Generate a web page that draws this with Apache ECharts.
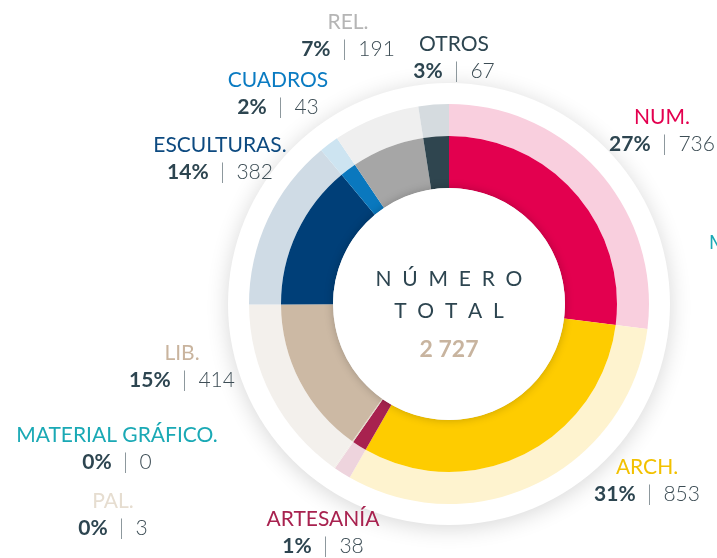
<!DOCTYPE html>
<html lang="es" style="height: 100%">
<head>
  <meta charset="utf-8">
  <script type="text/javascript" src="https://cdn.jsdelivr.net/npm/echarts@6/dist/echarts.min.js"></script>
</head>
<body style="height: 100%; margin: 0; background: #ffffff">
  <div id="donut" style="height: 558px; width: 717px"></div>

  <script type="text/javascript">
    // categories, clockwise from 12 o'clock
    var names = ['NUM.', 'ARCH.', 'ARTESANÍA', 'PAL.', 'MATERIAL GRÁFICO.', 'LIB.', 'ESCULTURAS.', 'CUADROS', 'REL.', 'OTROS'];
    var values = [736, 853, 38, 3, 0, 414, 382, 43, 191, 67];
    // percentages as printed on the chart
    var pctLabels = ['27%', '31%', '1%', '0%', '0%', '15%', '14%', '2%', '7%', '3%'];

    var innerColors = ['#e3004f', '#fecc00', '#a8224f', '#e3d8c8', '#1aa9b5', '#ccb9a4', '#003f78', '#0a78be', '#a6a6a6', '#2f454f'];
    var outerColors = ['#f9cfde', '#fef3cf', '#eed4dd', '#f3efe9', '#d2eef0', '#f3f0ec', '#cfdbe5', '#cde4f1', '#efefef', '#d5dbdf'];
    var nameColors = ['#e3004f', '#f2c100', '#a8224f', '#e6ddd0', '#1aa9b5', '#c9b49e', '#0d4a80', '#0a7bc2', '#b5b5b5', '#2d4550'];
    // label block centres (x, y)
    var labelPos = [[662, 131], [647, 481], [323, 533], [113, 515], [117, 449], [182, 367], [220, 159], [278, 94], [348, 36], [454, 58]];

    var center = [449, 304];
    var total = values.reduce(function (a, b) { return a + b; }, 0);

    var chart = echarts.init(document.getElementById('donut'));

    var rich = {
      p: { fontFamily: 'Lato', fontWeight: 'bold', fontSize: 21, color: '#2d4550', lineHeight: 27 },
      s: { fontFamily: 'Lato', fontWeight: 300, fontSize: 21, color: '#6f7d84', lineHeight: 27 },
      v: { fontFamily: 'Lato', fontWeight: 300, fontSize: 21, color: '#3d4d55', lineHeight: 27 }
    };
    for (var i = 0; i < names.length; i++) {
      rich['n' + i] = { fontFamily: 'Lato', fontSize: 21, color: nameColors[i], lineHeight: 27 };
    }

    var innerData = [];
    var outerData = [];
    for (var i = 0; i < names.length; i++) {
      innerData.push({ name: names[i], value: values[i], itemStyle: { color: innerColors[i] } });
      outerData.push({ name: names[i], value: values[i], itemStyle: { color: outerColors[i] } });
    }

    var totalText = String(total).replace(/\B(?=(\d{3})+(?!\d))/g, ' ');

    var option = {
      animation: false,
      series: [
        {
          // white disc under the rings
          type: 'pie',
          silent: true,
          center: center,
          radius: [0, 221],
          z: 1,
          label: { show: false },
          labelLine: { show: false },
          itemStyle: { color: '#ffffff', shadowBlur: 22, shadowColor: 'rgba(0,0,0,0.16)', shadowOffsetY: 3 },
          data: [{ value: 1 }]
        },
        {
          type: 'pie',
          center: center,
          radius: [116, 168],
          startAngle: 90,
          z: 3,
          label: { show: false },
          labelLine: { show: false },
          itemStyle: { borderWidth: 0 },
          data: innerData
        },
        {
          // centre hole, its shadow shades the ring's inner edge
          type: 'pie',
          silent: true,
          center: center,
          radius: [0, 116],
          z: 4,
          label: { show: false },
          labelLine: { show: false },
          itemStyle: { color: '#ffffff', shadowBlur: 10, shadowColor: 'rgba(0,0,0,0.22)' },
          data: [{ value: 1 }]
        },
        {
          type: 'pie',
          center: center,
          radius: [168, 200],
          startAngle: 90,
          z: 2,
          avoidLabelOverlap: false,
          itemStyle: { borderWidth: 0 },
          labelLine: { show: false },
          label: {
            show: true,
            position: 'outside',
            align: 'center',
            formatter: function (p) {
              var i = p.dataIndex;
              return '{n' + i + '|' + names[i] + '}\n{p|' + pctLabels[i] + '}{s|  |  }{v|' + values[i] + '}';
            },
            rich: rich
          },
          labelLayout: function (params) {
            var pos = labelPos[params.dataIndex];
            return { x: pos[0], y: pos[1], align: 'center', verticalAlign: 'middle' };
          },
          data: outerData
        }
      ],
      graphic: [
        {
          type: 'text', x: center[0], y: 279, z: 10,
          style: { text: 'N  Ú  M  E  R  O', fontFamily: 'Lato', fontSize: 21, fill: '#2d4550', align: 'center', verticalAlign: 'middle' }
        },
        {
          type: 'text', x: center[0], y: 311, z: 10,
          style: { text: 'T  O  T  A  L', fontFamily: 'Lato', fontSize: 21, fill: '#2d4550', align: 'center', verticalAlign: 'middle' }
        },
        {
          type: 'text', x: center[0], y: 350, z: 10,
          style: { text: totalText, fontFamily: 'Lato', fontWeight: 'bold', fontSize: 23, fill: '#c8b49f', align: 'center', verticalAlign: 'middle' }
        },
        {
          type: 'text', x: 709, y: 243, z: 10,
          style: { text: 'M', fontFamily: 'Lato', fontSize: 19, fill: '#1aa9b5', align: 'left', verticalAlign: 'middle' }
        }
      ]
    };

    chart.setOption(option);
  </script>
</body>
</html>
